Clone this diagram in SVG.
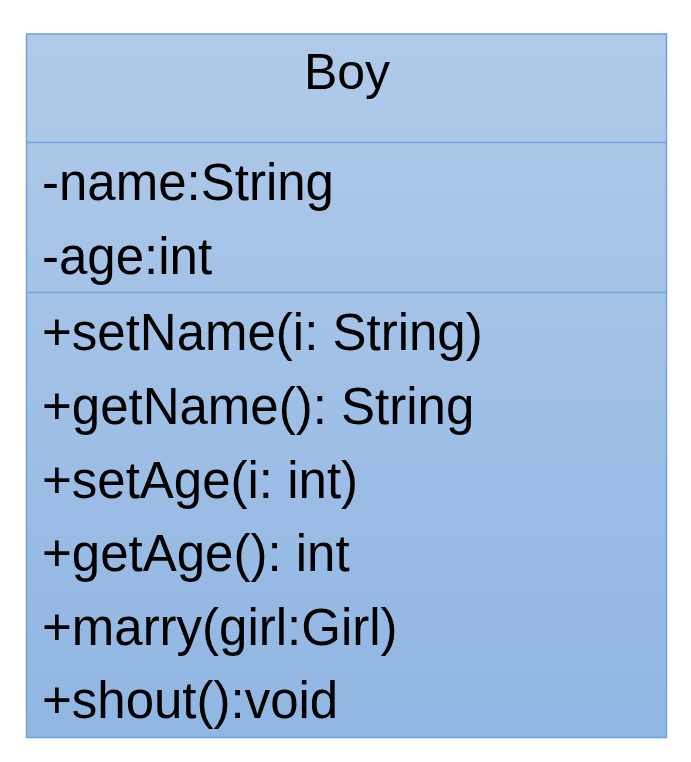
<svg xmlns="http://www.w3.org/2000/svg" width="691" height="762" viewBox="0 0 691 762">
<defs>
<linearGradient id="bg" x1="0" y1="0" x2="0" y2="1">
<stop offset="0" stop-color="#b0cae9"/>
<stop offset="1" stop-color="#90b6e3"/>
</linearGradient>
</defs>
<style>
.t{font-family:"Liberation Sans",Arial,sans-serif;font-size:51px;fill:#000}
.ln{stroke:#6ea2d9;stroke-width:1.5}
.box{fill:url(#bg)}
</style>
<rect width="691" height="762" fill="#fff"/>
<g id="Boy">
<rect x="26.5" y="34" width="640" height="703.5" class="ln box"/>
<line x1="26.5" y1="142.5" x2="666.5" y2="142.5" class="ln"/>
<line x1="26.5" y1="292.5" x2="666.5" y2="292.5" class="ln"/>
<text class="t" x="347" y="89" text-anchor="middle" style="font-size:50px">Boy</text>
<text class="t" x="42" y="200">-name:String</text>
<text class="t" x="42" y="274">-age:int</text>
<text class="t" x="42" y="350">+setName(i: String)</text>
<text class="t" x="42" y="424">+getName(): String</text>
<text class="t" x="42" y="498">+setAge(i: int)</text>
<text class="t" x="42" y="571">+getAge(): int</text>
<text class="t" x="42" y="645">+marry(girl:Girl)</text>
<text class="t" x="42" y="718">+shout():void</text>
</g>
<g id="connectors"/>
</svg>
